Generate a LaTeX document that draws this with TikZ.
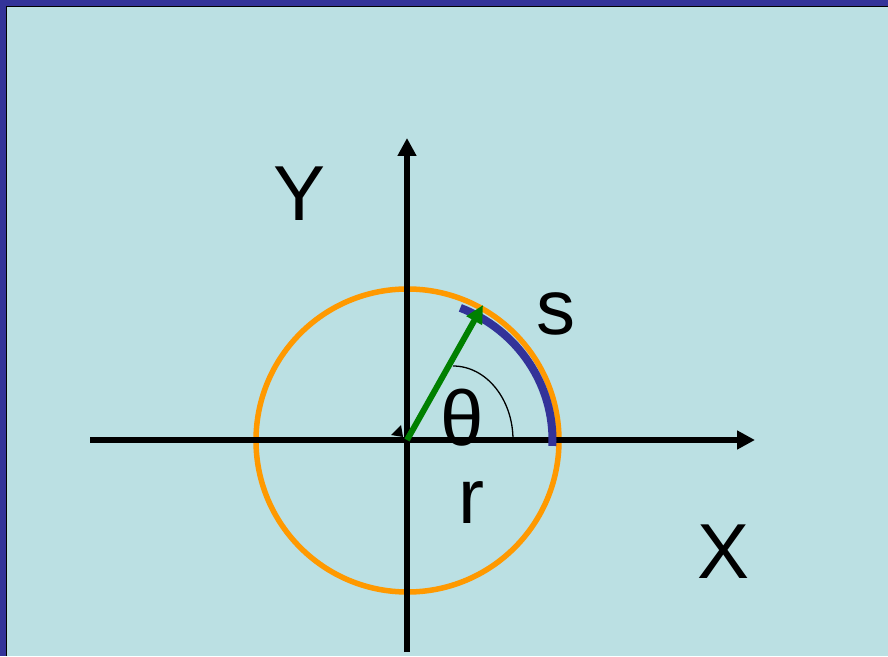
\documentclass[tikz,border=0pt]{standalone}
\usepackage{fontspec}
\setmainfont{Liberation Sans}
\usetikzlibrary{arrows.meta,calc}
\definecolor{bgcyan}{HTML}{BBE0E3}
\definecolor{frameblue}{HTML}{333399}
\definecolor{arcorange}{HTML}{FF9900}
\definecolor{vecgreen}{HTML}{008000}
\tikzset{
  axis/.style={line width=5.5pt, -{Triangle[length=18pt,width=18pt]}},
  lbl/.style={anchor=base, inner sep=0pt, font=\fontsize{78}{90}\selectfont},
}
\begin{document}
\begin{tikzpicture}[x=1pt,y=1pt]
\useasboundingbox (0,0) rectangle (888,656);
\fill[frameblue] (0,0) rectangle (888,656);
\fill[bgcyan] (6,0) rectangle (888,650);
\draw[black, line width=1pt] (6.5,0) -- (6.5,649.5) -- (888,649.5);
% coordinates
\coordinate (O) at (407,216);
\coordinate (xs) at (90,216);
\coordinate (xe) at (755,216);
\coordinate (ys) at (407,4);
\coordinate (ye) at (407,518);
\coordinate (C) at (407.5,215.5);
% circle
\draw[arcorange, line width=5.5pt] (C) circle[radius=151.5];
% axes
\draw[axis] (xs) -- (xe);
\draw[axis] (ys) -- (ye);
% blue arc s
\coordinate (sa) at ($(O)+({145.5*cos(-2.4)},{142*sin(-2.4)})$);
\draw[frameblue, line width=8pt] (sa) arc[start angle=-2.4, end angle=68.5, x radius=145.5, y radius=142];
% theta arc
\coordinate (ta) at (453,290);
\draw[black, line width=1.3pt] (ta) arc[start angle=90, end angle=0, x radius=60, y radius=74];
% small black triangle at origin
\fill[black] (391,221) -- (401,231) -- (403,219) -- cycle;
% green vector r
\coordinate (rt) at (483,351);
\draw[vecgreen, line width=6pt, -{Triangle[length=18pt,width=17pt]}] (O) -- (rt);
% labels
\node[lbl] (Ylab) at (300,435) {Y};
\node[lbl] (Xlab) at (724,78) {X};
\node[lbl] (slab) at (556,321) {s};
\node[lbl] (tlab) at (462,210) {θ};
\node[lbl] (rlab) at (471,133) {r};
\end{tikzpicture}
\end{document}
